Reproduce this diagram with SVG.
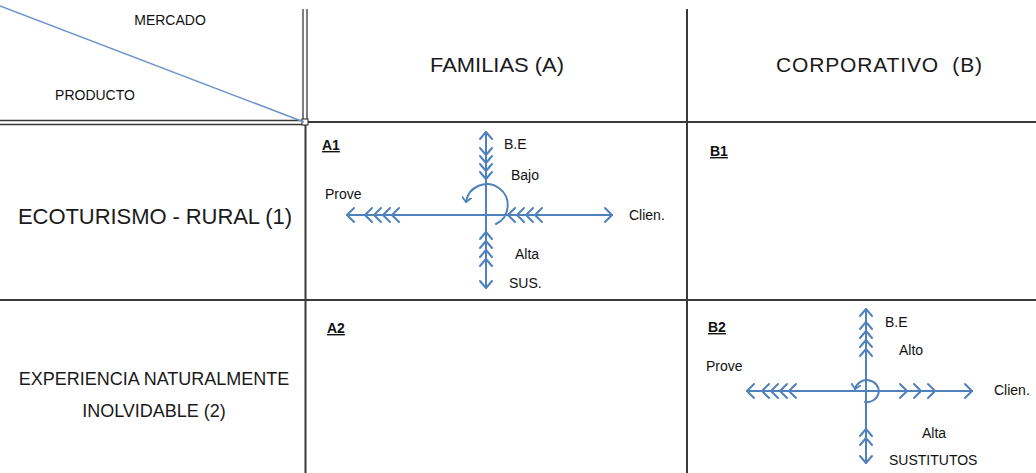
<svg xmlns="http://www.w3.org/2000/svg" xmlns:xlink="http://www.w3.org/1999/xlink" width="1036" height="473" viewBox="0 0 1036 473">
<style>
.grid{stroke:#3a3a3a;stroke-width:2;fill:none}
.grid1{stroke:#3a3a3a;stroke-width:1.3;fill:none}
.ax{stroke:#4f81bd;stroke-width:2;fill:none;stroke-linecap:round;stroke-linejoin:round}
.diag{stroke:#6d93cc;stroke-width:1.5;fill:none}
.big{font-family:"Liberation Sans",Arial,sans-serif;font-size:21px;fill:#1a1a1a;text-anchor:middle}
.row{font-family:"Liberation Sans",Arial,sans-serif;font-size:18px;fill:#1a1a1a;text-anchor:middle}
.row1{font-family:"Liberation Sans",Arial,sans-serif;font-size:22px;fill:#1a1a1a;text-anchor:middle}
.sm{font-family:"Liberation Sans",Arial,sans-serif;font-size:14px;fill:#111}
.ul{font-family:"Liberation Sans",Arial,sans-serif;font-size:14px;fill:#111;text-decoration:underline;font-weight:bold}
</style>
<defs>
<path id="cl" d="M7,-7 L0,0 L7,7"/>
<path id="cr" d="M-7,-7 L0,0 L-7,7"/>
<path id="cu" d="M-6,7 L0,0 L6,7"/>
<path id="cd" d="M-6,-7 L0,0 L6,-7"/>
<marker id="ah" markerWidth="10" markerHeight="10" refX="5" refY="5" orient="auto" markerUnits="userSpaceOnUse">
<path d="M0,0 L5,5 L0,10" fill="none" stroke="#4f81bd" stroke-width="1.8"/>
</marker>
</defs>
<rect width="1036" height="473" fill="#ffffff"/>

<g id="grid">
<line class="grid1" x1="303" y1="9" x2="303" y2="122"/>
<line class="grid1" x1="307" y1="9" x2="307" y2="122"/>
<line class="grid1" x1="0" y1="120.5" x2="305" y2="120.5"/>
<line class="grid1" x1="0" y1="124.5" x2="305" y2="124.5"/>
<line class="grid" x1="305" y1="122" x2="1036" y2="122"/>
<line class="grid" x1="305.5" y1="122" x2="305.5" y2="473"/>
<line class="grid" x1="687" y1="9" x2="687" y2="473"/>
<line class="grid" x1="0" y1="300" x2="1036" y2="300"/>
<rect x="302" y="119" width="6" height="6" fill="#ffffff" stroke="#222" stroke-width="1"/>
</g>

<g id="corner">
<line class="diag" x1="0" y1="6" x2="304" y2="122"/>
<text class="sm" x="170" y="25" text-anchor="middle">MERCADO</text>
<text class="sm" x="95" y="100" text-anchor="middle">PRODUCTO</text>
</g>

<g id="col-a"><text class="big" x="497" y="72" textLength="134" lengthAdjust="spacingAndGlyphs">FAMILIAS (A)</text></g>
<g id="col-b"><text class="big" x="879" y="72" xml:space="preserve" textLength="206" lengthAdjust="spacing">CORPORATIVO  (B)</text></g>
<g id="row-1"><text class="row1" x="155" y="224" textLength="274" lengthAdjust="spacing">ECOTURISMO - RURAL (1)</text></g>
<g id="row-2">
<text class="row" x="154" y="385">EXPERIENCIA NATURALMENTE</text>
<text class="row" x="154" y="417">INOLVIDABLE (2)</text>
</g>

<g id="cell-a1">
<text class="ul" x="322" y="150">A1</text>
<g class="ax">
<line x1="486" y1="132" x2="486" y2="288"/>
<line x1="347" y1="215" x2="612" y2="215"/>
<use href="#cu" x="486" y="132"/>
<use href="#cd" x="486" y="288"/>
<use href="#cl" x="347" y="215"/>
<use href="#cr" x="612" y="215"/>
<use href="#cd" x="486" y="155"/>
<use href="#cd" x="486" y="163"/>
<use href="#cd" x="486" y="171"/>
<use href="#cd" x="486" y="179"/>
<use href="#cl" x="365" y="215"/>
<use href="#cl" x="374" y="215"/>
<use href="#cl" x="383" y="215"/>
<use href="#cl" x="392" y="215"/>
<use href="#cl" x="508" y="215"/>
<use href="#cl" x="517" y="215"/>
<use href="#cl" x="526" y="215"/>
<use href="#cl" x="535" y="215"/>
<use href="#cu" x="486" y="232"/>
<use href="#cu" x="486" y="241"/>
<use href="#cu" x="486" y="250"/>
<use href="#cu" x="486" y="259"/>
<path d="M496,224 A21,21 0 1 0 466,202" marker-end="url(#ah)"/>
</g>
<text class="sm" x="504" y="149">B.E</text>
<text class="sm" x="511" y="180">Bajo</text>
<text class="sm" x="325" y="199">Prove</text>
<text class="sm" x="629" y="220">Clien.</text>
<text class="sm" x="515" y="259">Alta</text>
<text class="sm" x="509" y="288">SUS.</text>
</g>

<g id="cell-b1"><text class="ul" x="710" y="156">B1</text></g>
<g id="cell-a2"><text class="ul" x="327" y="333">A2</text></g>

<g id="cell-b2">
<text class="ul" x="708" y="332">B2</text>
<g class="ax">
<line x1="866" y1="309" x2="866" y2="463"/>
<line x1="747" y1="391" x2="972" y2="391"/>
<use href="#cu" x="866" y="309"/>
<use href="#cd" x="866" y="463"/>
<use href="#cl" x="747" y="391"/>
<use href="#cr" x="972" y="391"/>
<use href="#cu" x="866" y="322"/>
<use href="#cu" x="866" y="331"/>
<use href="#cu" x="866" y="340"/>
<use href="#cu" x="866" y="349"/>
<use href="#cl" x="762" y="391"/>
<use href="#cl" x="771" y="391"/>
<use href="#cl" x="780" y="391"/>
<use href="#cl" x="789" y="391"/>
<use href="#cr" x="907" y="391"/>
<use href="#cr" x="921" y="391"/>
<use href="#cr" x="935" y="391"/>
<use href="#cu" x="866" y="429"/>
<use href="#cu" x="866" y="438"/>
<path d="M865,402 A12,11 0 1 0 855,389" marker-end="url(#ah)"/>
</g>
<text class="sm" x="885" y="327">B.E</text>
<text class="sm" x="899" y="355">Alto</text>
<text class="sm" x="706" y="371">Prove</text>
<text class="sm" x="994" y="395">Clien.</text>
<text class="sm" x="922" y="438">Alta</text>
<text class="sm" x="889" y="465">SUSTITUTOS</text>
</g>
</svg>
